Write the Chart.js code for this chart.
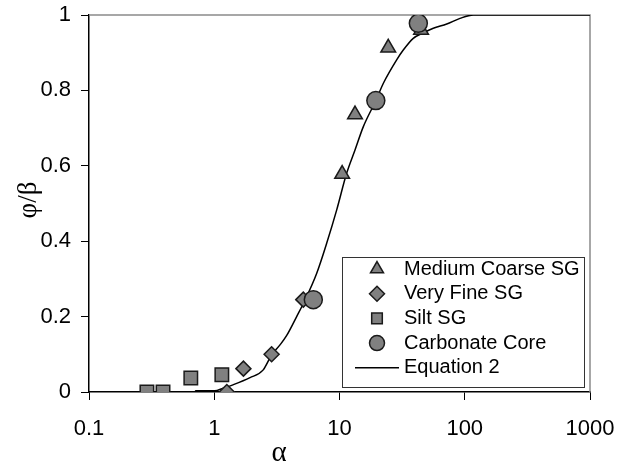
<!DOCTYPE html>
<html>
<head>
<meta charset="utf-8">
<script src="https://cdn.jsdelivr.net/npm/chart.js@4.4.1/dist/chart.umd.min.js"></script>
<style>
  html, body { margin: 0; padding: 0; background: #fff; }
  canvas { display: block; }
</style>
</head>
<body>
<canvas id="chart" width="618" height="472"></canvas>
<script>
const MARKER_FILL = '#808080';
const MARKER_EDGE = '#1a1a1a';
const FRAME_GRAY  = '#8a8a8a';
const FONT        = "'Liberation Sans', Arial, sans-serif";
const SERIF       = "'Liberation Serif', 'DejaVu Serif', serif";

// x tick labels (log axis) and y ticks
const xTicks = [0.1, 1, 10, 100, 1000];
const yTicks = [0, 0.2, 0.4, 0.6, 0.8, 1];

// measured series
const mediumCoarseX = [10.5, 13.3, 24.5, 44.8];
const mediumCoarseY = [0.578, 0.736, 0.913, 0.96];

const veryFineX = [1.26, 1.71, 2.87, 5.14];
const veryFineY = [0, 0.062, 0.1, 0.245];

const siltX = [0.29, 0.39, 0.65, 1.15];
const siltY = [0, 0, 0.037, 0.046];

const carbonateX = [6.18, 19.5, 42.6];
const carbonateY = [0.245, 0.773, 0.978];

// Equation 2 curve
const eqX = [0.1, 0.70, 0.712, 1.01, 1.175, 1.41, 1.93, 2.45, 2.87, 3.35, 3.79, 4.55, 5.31,
             6.58, 7.91, 9.5, 11.4, 13.3, 15.5, 19.5, 22.4, 28.6, 32.3, 38.8, 46.7, 56.1,
             71.8, 91.6, 117, 1000];
const eqY = [0, 0, 0.003, 0.003, 0.01, 0.019, 0.038, 0.058, 0.098, 0.125, 0.15, 0.2, 0.244,
             0.315, 0.395, 0.483, 0.58, 0.642, 0.704, 0.773, 0.819, 0.881, 0.907, 0.938, 0.953, 0.965,
             0.976, 0.991, 1, 1];

const pts = (xs, ys) => xs.map((x, i) => ({ x, y: ys[i] }));

function markerSet(label, xs, ys, style, radius, order) {
  return {
    label,
    data: pts(xs, ys),
    pointStyle: style,
    pointRadius: radius,
    pointHoverRadius: radius,
    backgroundColor: MARKER_FILL,
    borderColor: MARKER_EDGE,
    borderWidth: 1.5,
    showLine: false,
    order,
  };
}

// frame on top/right + axis titles
const extras = {
  id: 'extras',
  beforeDatasetsDraw(chart) {
    const { ctx, chartArea: a } = chart;
    ctx.save();
    ctx.strokeStyle = FRAME_GRAY;
    ctx.lineWidth = 1.5;
    ctx.beginPath();
    ctx.moveTo(a.left, a.top);
    ctx.lineTo(a.right, a.top);
    ctx.lineTo(a.right, a.bottom);
    ctx.stroke();
    ctx.restore();
  },
  afterDraw(chart) {
    const { ctx } = chart;
    ctx.save();
    ctx.fillStyle = '#000';
    ctx.textAlign = 'center';
    ctx.textBaseline = 'middle';
    ctx.font = `29px ${SERIF}`;
    ctx.fillText('α', 279, 453);
    ctx.translate(29, 200);
    ctx.rotate(-Math.PI / 2);
    ctx.font = `27px ${SERIF}`;
    ctx.fillText('φ/β', 0, 0);
    ctx.restore();
  },
};

// legend drawn inside the plot area
const insideLegend = {
  id: 'insideLegend',
  afterDatasetsDraw(chart) {
    const { ctx } = chart;
    const box = { x: 342, y: 257, w: 242, h: 130 };
    ctx.save();
    ctx.fillStyle = '#fff';
    ctx.fillRect(box.x, box.y, box.w, box.h);
    ctx.strokeStyle = '#333';
    ctx.lineWidth = 1;
    ctx.strokeRect(box.x + 0.5, box.y + 0.5, box.w, box.h);

    ctx.font = `20px ${FONT}`;
    ctx.textBaseline = 'middle';
    chart.data.datasets.forEach((ds, i) => {
      const cy = box.y + 12 + i * 24.7;
      if (ds.showLine) {
        ctx.strokeStyle = ds.borderColor;
        ctx.lineWidth = 1.5;
        ctx.beginPath();
        ctx.moveTo(355, cy);
        ctx.lineTo(399, cy);
        ctx.stroke();
      } else {
        ctx.fillStyle = ds.backgroundColor;
        ctx.strokeStyle = ds.borderColor;
        ctx.lineWidth = ds.borderWidth;
        Chart.helpers.drawPoint(ctx, {
          pointStyle: ds.pointStyle, rotation: 0,
          radius: Math.min(ds.pointRadius, 7.5), borderWidth: ds.borderWidth,
        }, 377, cy);
      }
      ctx.fillStyle = '#000';
      ctx.fillText(ds.label, 404, cy);
    });
    ctx.restore();
  },
};

const tickFont = { family: FONT, size: 22 };

new Chart(document.getElementById('chart').getContext('2d'), {
  type: 'scatter',
  data: {
    datasets: [
      markerSet('Medium Coarse SG', mediumCoarseX, mediumCoarseY, 'triangle', 8.5, 1),
      markerSet('Very Fine SG', veryFineX, veryFineY, 'rectRot', 7.5, 2),
      markerSet('Silt SG', siltX, siltY, 'rect', 9.5, 3),
      markerSet('Carbonate Core', carbonateX, carbonateY, 'circle', 9, 0),
      {
        label: 'Equation 2',
        data: pts(eqX, eqY),
        showLine: true,
        borderColor: '#000',
        borderWidth: 1.5,
        pointRadius: 0,
        cubicInterpolationMode: 'monotone',
        order: 4,
      },
    ],
  },
  options: {
    responsive: false,
    animation: false,
    layout: { padding: { top: 15, right: 28, left: 0, bottom: 0 } },
    plugins: {
      legend: { display: false },
      tooltip: { enabled: false },
    },
    scales: {
      x: {
        type: 'logarithmic',
        min: 0.1,
        max: 1000,
        afterBuildTicks: (s) => { s.ticks = xTicks.map((v) => ({ value: v })); },
        afterFit: (s) => { s.height = 80; s.paddingLeft = 0; s.paddingRight = 0; },
        ticks: {
          color: '#000',
          font: tickFont,
          padding: 16,
          maxRotation: 0,
          autoSkip: false,
          callback: (v) => String(v),
        },
        grid: { drawOnChartArea: false, drawTicks: true, tickLength: 8, color: '#000' },
        border: { color: '#000', width: 1.5 },
      },
      y: {
        min: 0,
        max: 1,
        afterBuildTicks: (s) => { s.ticks = yTicks.map((v) => ({ value: v })); },
        afterFit: (s) => { s.width = 89; s.paddingTop = 0; s.paddingBottom = 0; },
        ticks: {
          color: '#000',
          font: tickFont,
          padding: 10,
          callback: (v) => String(v),
        },
        grid: { drawOnChartArea: false, drawTicks: true, tickLength: 8, color: '#000' },
        border: { color: '#000', width: 1.5 },
      },
    },
  },
  plugins: [extras, insideLegend],
});
</script>
</body>
</html>
